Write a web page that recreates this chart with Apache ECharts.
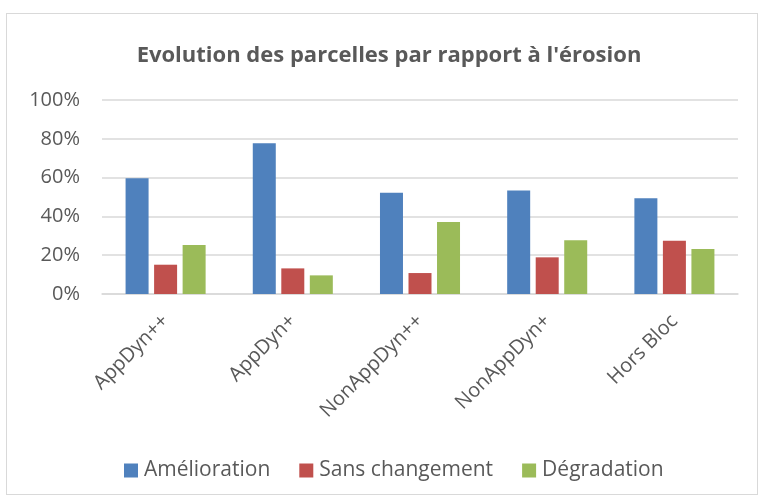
<!DOCTYPE html>
<html>
<head>
<meta charset="utf-8">
<script src="https://cdn.jsdelivr.net/npm/echarts@6/dist/echarts.min.js"></script>
<style>
  html, body { margin: 0; padding: 0; background: #fff; }
  #frame { position: absolute; left: 6px; top: 13px; width: 752px; height: 482px; border: 1px solid #d9d9d9; box-sizing: border-box; }
  #chart { position: absolute; left: 0; top: 0; width: 758px; height: 501px; }
</style>
</head>
<body>
<div id="frame"></div>
<div id="chart"></div>
<script>
// données
const categories = ['AppDyn++', 'AppDyn+', 'NonAppDyn++', 'NonAppDyn+', 'Hors Bloc']
const amelioration = [59.7, 77.7, 52.2, 53.4, 49.3]
const sansChangement = [15.1, 13.2, 10.8, 18.9, 27.5]
const degradation = [25.2, 9.6, 37.1, 27.7, 23.2]
const yTicks = [0, 20, 40, 60, 80, 100]

const font = '"Open Sans", Lato, sans-serif'
const grey = '#595959'

let myChart = echarts.init(document.getElementById('chart'))

const makeSeries = (name, data, color) => {
    return {
        name: name,
        type: 'bar',
        data: data,
        barWidth: 23,
        barGap: '24%',
        itemStyle: { color: color },
        emphasis: { disabled: true }
    }
}

const options = {
    animation: false,
    title: {
        text: "Evolution des parcelles par rapport à l'érosion",
        left: 384,
        textAlign: 'center',
        top: 40,
        textStyle: { fontFamily: font, fontSize: 22, fontWeight: 'bold', color: grey }
    },
    grid: {
        left: 102,
        right: 20,
        top: 100,
        bottom: 207,
        containLabel: false
    },
    legend: {
        data: ['Amélioration', 'Sans changement', 'Dégradation'],
        top: 455,
        left: 119,
        itemWidth: 14,
        itemHeight: 14,
        itemGap: 29,
        icon: 'rect',
        textStyle: { fontFamily: font, fontSize: 21, color: grey, padding: [0, 0, 0, 1] }
    },
    xAxis: {
        type: 'category',
        data: categories,
        axisLine: { lineStyle: { color: '#d9d9d9', width: 1.5 } },
        axisTick: { show: false },
        axisLabel: {
            rotate: 45,
            margin: 24,
            fontFamily: font,
            fontSize: 20,
            color: grey
        }
    },
    yAxis: {
        type: 'value',
        min: yTicks[0],
        max: yTicks[yTicks.length - 1],
        interval: 20,
        axisLine: { show: false },
        axisTick: { show: false },
        splitLine: { lineStyle: { color: '#d9d9d9', width: 1.5 } },
        axisLabel: {
            margin: 22,
            fontFamily: font,
            fontSize: 20,
            color: grey,
            formatter: '{value}%'
        }
    },
    series: [
        makeSeries('Amélioration', amelioration, '#4f81bd'),
        makeSeries('Sans changement', sansChangement, '#c0504d'),
        makeSeries('Dégradation', degradation, '#9bbb59')
    ]
}
myChart.setOption(options)
</script>
</body>
</html>
